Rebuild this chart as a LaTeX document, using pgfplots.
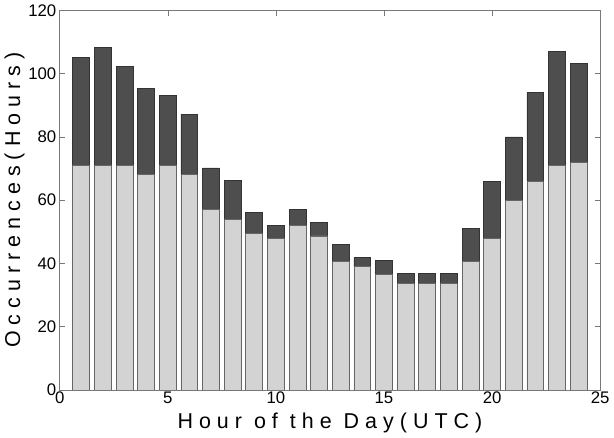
\documentclass[border=0pt]{standalone}
\usepackage{pgfplots}
\pgfplotsset{compat=1.18}
\usepackage{fontspec}
\setmainfont{Liberation Sans}
\definecolor{lightbar}{RGB}{211,211,211}
\definecolor{darkbar}{RGB}{78,78,78}
\definecolor{framegray}{RGB}{120,120,120}
\begin{document}
\begin{tikzpicture}
\begin{axis}[
  scale only axis,
  width=403pt, height=283pt,
  xmin=0, xmax=25, ymin=0, ymax=120,
  xtick={0,5,...,25}, ytick={0,20,...,120},
  tick align=inside,
  axis line style={framegray},
  tick style={framegray, thin},
  major tick length=4pt,
  ybar stacked, bar width=0.78,
  /pgf/number format/assume math mode=true,
  ticklabel style={font=\fontsize{12.5}{14}\selectfont},
  xticklabel style={yshift=2pt},
  yticklabel style={xshift=1pt},
  xlabel={\addfontfeature{LetterSpace=28}Hour of the Day(UTC)},
  ylabel={\addfontfeature{LetterSpace=28}Occurrences(Hours)},
  label style={font=\fontsize{16}{18}\selectfont},
  xlabel style={yshift=0pt},
  ylabel style={yshift=-4pt},
]
\addplot[fill=lightbar, draw=black!60, line width=0.6pt] coordinates {
(1,71) (2,71) (3,71) (4,68) (5,71) (6,68) (7,57) (8,54) (9,49.6) (10,48) (11,52) (12,48.7)
(13,40.6) (14,39) (15,36.5) (16,33.8) (17,33.8) (18,33.8) (19,40.6) (20,47.8) (21,60) (22,66) (23,71) (24,72)};
\addplot[fill=darkbar, draw=black!80, line width=0.6pt] coordinates {
(1,34.2) (2,37.4) (3,31.3) (4,27.2) (5,22.1) (6,19.2) (7,13.2) (8,12.1) (9,6.4) (10,4) (11,5.1) (12,4.3)
(13,5.3) (14,2.8) (15,4.4) (16,2.9) (17,2.9) (18,2.9) (19,10.4) (20,18.2) (21,20) (22,28) (23,36) (24,31.2)};
\end{axis}
\end{tikzpicture}
\end{document}
